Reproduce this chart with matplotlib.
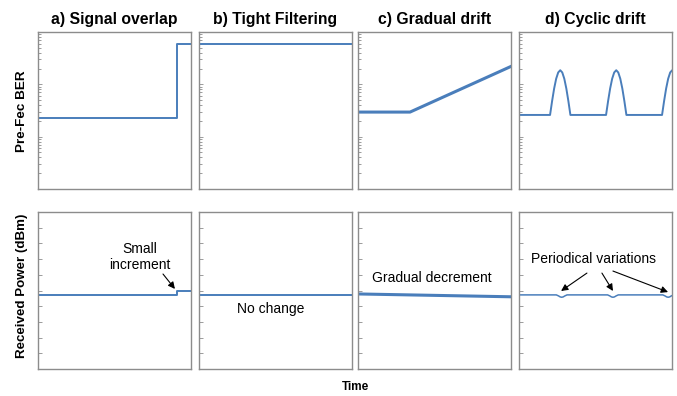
import numpy as np
import matplotlib.pyplot as plt
from matplotlib.ticker import LogLocator, NullFormatter

plt.rcParams['font.family'] = ['Liberation Sans', 'DejaVu Sans']

titles = ['a) Signal overlap', 'b) Tight Filtering', 'c) Gradual drift', 'd) Cyclic drift']

# pre-FEC BER, time in % of the observation window
ber_a_t = [0, 91, 91, 100]
ber_a = [2.3e-3, 2.3e-3, 5.9e-2, 5.9e-2]
ber_b_t = [0, 100]
ber_b = [5.9e-2, 5.9e-2]
ber_c_t = [0, 34, 100]
ber_c = [2.95e-3, 2.95e-3, 2.2e-2]

# cyclic drift: flat floor with arch shaped bumps
ber_d_floor = 2.6e-3
ber_d_peak = 1.86e-2
ber_d_starts = [20.3, 56.9, 93.5]
arch_width = 13.3
arch_shape = [0, 0.31, 0.59, 0.81, 0.95, 1.0, 0.95, 0.81, 0.59, 0.31, 0]

# received power (dBm, arbitrary offset)
pw_a_t = [0, 91, 91, 100]
pw_a = [4.72, 4.72, 5.0, 5.0]
pw_b_t = [0, 100]
pw_b = [4.72, 4.72]
pw_c_t = [0, 100]
pw_c = [4.78, 4.6]
pw_d_floor = 4.72
pw_d_dip = 4.57
pw_d_centers = [27.9, 61.4, 97.5]
dip_offsets = [-3.5, -2, -1, 0, 1, 2, 3.5]
dip_shape = [0, 0.45, 0.85, 1, 0.85, 0.45, 0]

blue = '#4A7EBB'
edge = '#8c8c8c'

ber_d_t, ber_d = [0], [ber_d_floor]
for s in ber_d_starts:
    for k, h in enumerate(arch_shape):
        ber_d_t.append(s + k * arch_width / (len(arch_shape) - 1))
        ber_d.append(ber_d_floor * (ber_d_peak / ber_d_floor) ** h)
ber_d_t.append(110)
ber_d.append(ber_d_floor)

pw_d_t, pw_d = [0], [pw_d_floor]
for c in pw_d_centers:
    for o, h in zip(dip_offsets, dip_shape):
        pw_d_t.append(c + o)
        pw_d.append(pw_d_floor - (pw_d_floor - pw_d_dip) * h)
pw_d_t.append(110)
pw_d.append(pw_d_floor)

ber = [(ber_a_t, ber_a, 1.4), (ber_b_t, ber_b, 1.4), (ber_c_t, ber_c, 2.2), (ber_d_t, ber_d, 1.4)]
pw = [(pw_a_t, pw_a, 1.4), (pw_b_t, pw_b, 1.4), (pw_c_t, pw_c, 2.2), (pw_d_t, pw_d, 1.1)]

fig = plt.figure(figsize=(6.77, 3.96), dpi=100)
lefts = [38, 199, 358, 519]
W, H = 677., 396.

def style(ax):
    for sp in ax.spines.values():
        sp.set_color(edge)
        sp.set_linewidth(1.0)
    ax.set_xticks([])
    ax.set_xlim(0, 100)
    ax.tick_params(axis='y', which='both', direction='in', color=edge,
                   labelleft=False, width=0.6)
    ax.tick_params(axis='y', which='major', length=3)
    ax.tick_params(axis='y', which='minor', length=2)

top_axes, bot_axes = [], []
for i in range(4):
    ax = fig.add_axes([lefts[i] / W, 1 - 189 / H, 153 / W, 157 / H])
    t, v, lw = ber[i]
    ax.plot(t, v, color=blue, lw=lw)
    ax.set_yscale('log')
    ax.set_ylim(1e-4, 1e-1)
    ax.yaxis.set_major_locator(LogLocator(base=10))
    ax.yaxis.set_minor_locator(LogLocator(base=10, subs=np.arange(2, 10)))
    ax.yaxis.set_minor_formatter(NullFormatter())
    style(ax)
    ax.set_title(titles[i], fontsize=11.3, fontweight='bold', pad=6)
    top_axes.append(ax)

    bx = fig.add_axes([lefts[i] / W, 1 - 369 / H, 153 / W, 157 / H])
    t, v, lw = pw[i]
    bx.plot(t, v, color=blue, lw=lw)
    bx.set_ylim(0, 10)
    bx.set_yticks(range(0, 11))
    style(bx)
    bot_axes.append(bx)

arrow = dict(arrowstyle='-|>', color='black', lw=0.8, mutation_scale=10,
             shrinkA=0, shrinkB=0)

ax = bot_axes[0]
ax.text(66.7, 7.13, 'Small\nincrement', ha='center', va='center', fontsize=10)
ax.annotate('', xy=(89.5, 5.1), xytext=(81.7, 6.05), arrowprops=arrow)

bot_axes[1].text(47.1, 3.82, 'No change', ha='center', va='center', fontsize=10)
bot_axes[2].text(48.1, 5.8, 'Gradual decrement', ha='center', va='center', fontsize=10)

ax = bot_axes[3]
ax.text(49, 7.0, 'Periodical variations', ha='center', va='center', fontsize=10)
ax.annotate('', xy=(27.5, 4.97), xytext=(44.4, 6.11), arrowprops=arrow)
ax.annotate('', xy=(61.4, 4.97), xytext=(54.2, 6.11), arrowprops=arrow)
ax.annotate('', xy=(97.4, 4.9), xytext=(61.4, 6.24), arrowprops=arrow, annotation_clip=False)

fig.text(22 / W, 1 - 111 / H, 'Pre-Fec BER', rotation=90, ha='center', va='center',
         fontsize=9.7, fontweight='bold')
fig.text(22 / W, 1 - 286 / H, 'Received Power (dBm)', rotation=90, ha='center', va='center',
         fontsize=9.6, fontweight='bold')
fig.text(355 / W, 1 - 387 / H, 'Time', ha='center', va='center', fontsize=8.5, fontweight='bold')

fig.savefig('out.png', dpi=100)
